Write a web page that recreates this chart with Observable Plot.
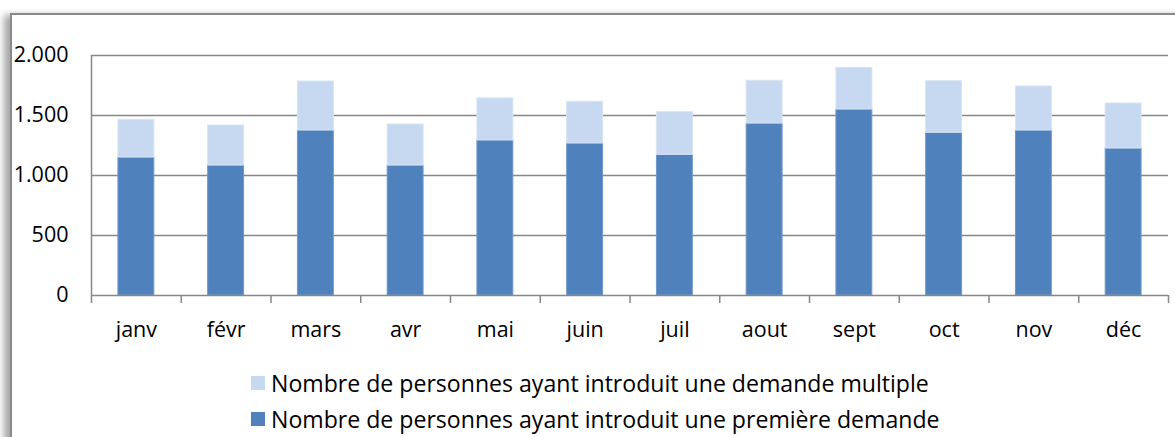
<!DOCTYPE html>
<html>
<head>
<meta charset="utf-8">
<script src="https://cdn.jsdelivr.net/npm/d3@7"></script>
<script src="https://cdn.jsdelivr.net/npm/@observablehq/plot@0.6"></script>
<style>
  html, body { margin: 0; padding: 0; background: #fff; }
  #wrap { position: relative; width: 1175px; height: 437px; overflow: hidden; background: #fff; font-family: "Open Sans", sans-serif; }
  #frame { position: absolute; left: 10px; top: 13px; width: 1300px; height: 600px; border-left: 2px solid #8a8a8a; border-top: 2px solid #8a8a8a; box-shadow: -6px 2px 7px rgba(0,0,0,0.35); background: #fff; }
  #chart { position: absolute; left: 0; top: 0; }
  #legend { position: absolute; left: 251px; top: 365px; font-size: 23.1px; color: #000; }
  .row { display: flex; align-items: center; height: 36px; }
  .sw { width: 14px; height: 14px; margin-right: 6px; }
</style>
</head>
<body>
<div id="wrap">
  <div id="frame"></div>
  <div id="chart"></div>
  <div id="legend"></div>
</div>
<script>
const months = ["janv", "févr", "mars", "avr", "mai", "juin", "juil", "aout", "sept", "oct", "nov", "déc"];
const premiere = [1150, 1083, 1375, 1083, 1292, 1267, 1172, 1433, 1550, 1356, 1375, 1225];
const multiple = [314, 334, 408, 342, 350, 347, 356, 356, 347, 430, 367, 375];
const seriesNames = [
  "Nombre de personnes ayant introduit une demande multiple",
  "Nombre de personnes ayant introduit une première demande"
];
const colors = ["#C6D9F1", "#4F81BD"];
const yTicks = [0, 500, 1000, 1500, 2000];

const data = [];
months.forEach((m, i) => {
  data.push({i, month: m, series: seriesNames[1], value: premiere[i], order: 0});
  data.push({i, month: m, series: seriesNames[0], value: multiple[i], order: 1});
});

const fmt = d3.formatLocale({decimal: ",", thousands: ".", grouping: [3]}).format(",");

const chart = Plot.plot({
  width: 1175,
  height: 350,
  marginLeft: 91,
  marginRight: 7,
  marginTop: 55,
  marginBottom: 55,
  style: {fontFamily: "Open Sans, sans-serif", fontSize: "21.5px", color: "#000", background: "transparent"},
  x: {type: "linear", domain: [0, months.length], label: null},
  y: {domain: [0, 2000], label: null},
  color: {domain: seriesNames, range: colors},
  marks: [
    Plot.ruleY(yTicks.slice(1), {stroke: "#878787", strokeWidth: 1.5}),
    Plot.rectY(data, Plot.stackY({
      x1: d => d.i + 0.3,
      x2: d => d.i + 0.7,
      y: "value",
      fill: "series",
      order: "order",
      stroke: d => d.order === 0 ? "#6f97c9" : "#d6e3f4",
      strokeWidth: 1
    })),
    Plot.ruleX([0], {stroke: "#878787", strokeWidth: 1.5}),
    Plot.ruleY([0], {stroke: "#878787", strokeWidth: 1.5}),
    Plot.axisY({ticks: yTicks, tickSize: 0, tickPadding: 23, tickFormat: fmt, fontSize: 21.5, label: null}),
    Plot.axisX({ticks: d3.range(months.length + 1), tickSize: 8, tickFormat: () => "", stroke: "#878787", strokeWidth: 1.5, label: null}),
    Plot.axisX({ticks: d3.range(months.length).map(i => i + 0.5), tickSize: 0, tickPadding: 26, tickFormat: v => months[Math.floor(v)], fontSize: 21.5, label: null})
  ]
});
document.getElementById("chart").appendChild(chart);

const legend = document.getElementById("legend");
seriesNames.forEach((name, k) => {
  const row = document.createElement("div");
  row.className = "row";
  const sw = document.createElement("div");
  sw.className = "sw";
  sw.style.background = colors[k];
  const t = document.createElement("span");
  t.textContent = name;
  row.appendChild(sw);
  row.appendChild(t);
  legend.appendChild(row);
});
</script>
</body>
</html>
